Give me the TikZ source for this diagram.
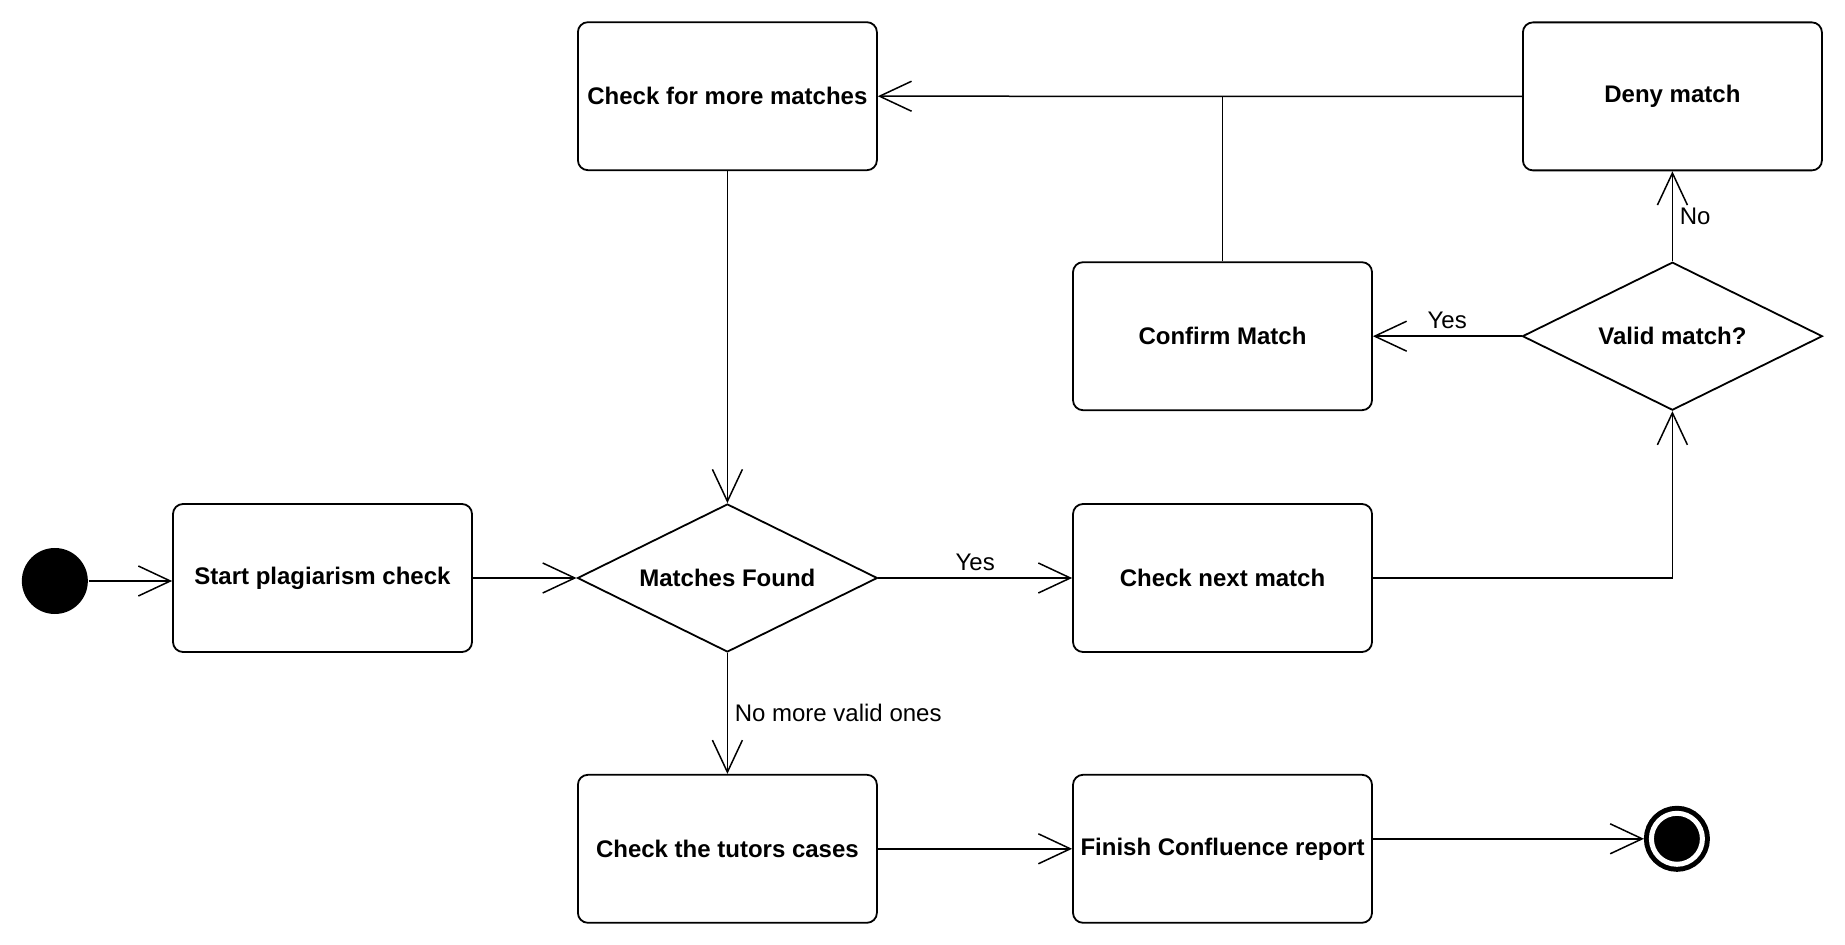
\documentclass[tikz,border=0pt]{standalone}
\usepackage{fontspec}
\setmainfont{Liberation Sans}
\usetikzlibrary{shapes,arrows.meta,positioning}

\begin{document}
\begin{tikzpicture}[
    x=0.5pt, y=-0.5pt,
    >={Straight Barb[length=16pt,width=15pt]},
    line width=0.75pt,
    box/.style={rectangle, draw, rounded corners=5pt, line width=0.9pt, minimum width=149.5pt, minimum height=74pt, font=\fontsize{12pt}{14pt}\selectfont\bfseries},
    decision/.style={diamond, draw, aspect=2, inner sep=0pt, line width=0.9pt, minimum width=150pt, minimum height=74pt, font=\fontsize{12pt}{14pt}\selectfont\bfseries},
    startdot/.style={circle, fill=black, minimum size=33pt, inner sep=0pt},
    enddot/.style={circle, draw=black, fill=black, double=white, double distance=2.5pt, line width=2.5pt, minimum size=25.5pt, inner sep=0pt, outer sep=3.75pt},
    lbl/.style={font=\fontsize{12pt}{14pt}\selectfont}
]
    \useasboundingbox (0,0) rectangle (1845,945);

    % Main row
    \node[box] (begin) at (322.5,578) {Start plagiarism check};
    \node[startdot, left=41.75pt of begin, yshift=-1.5pt] (init) {};
    \node[decision, right=51.8pt of begin] (found) {Matches Found};
    \node[box, right=96.9pt of found] (next) {Check next match};

    % Upper rows
    \node[box, above=46pt of next] (confirm) {Confirm Match};
    \node[decision, right=74.3pt of confirm] (valid) {Valid match?};
    \node[box, above=45pt of valid] (deny) {Deny match};
    \node[box, above=166pt of found] (more) {Check for more matches};

    % Bottom row
    \node[box, below=60.5pt of found] (tutors) {Check the tutors cases};
    \node[box, below=60.5pt of next] (finish) {Finish Confluence report};
    \node[enddot, right=135.5pt of finish, yshift=5pt] (final) {};

    % Connections
    \draw[->] (init) -- (init -| begin.west);
    \draw[->] (begin) -- (found);
    \draw[->] (found) -- node[lbl, above] {Yes} (next);
    \draw[->] (next) -| (valid);
    \draw[->] (valid) -- node[lbl, above] {Yes} (confirm);
    \draw[->] (valid) -- node[lbl, right] {No} (deny);
    \draw[->] (deny) -- (more);
    \draw (confirm) -- (confirm |- more);
    \draw[->] (more) -- (found);
    \draw[->] (found) -- node[lbl, right] {No more valid ones} (tutors);
    \draw[->] (tutors) -- (finish);
    \draw[->] (finish.east |- final) -- (final);
\end{tikzpicture}
\end{document}
